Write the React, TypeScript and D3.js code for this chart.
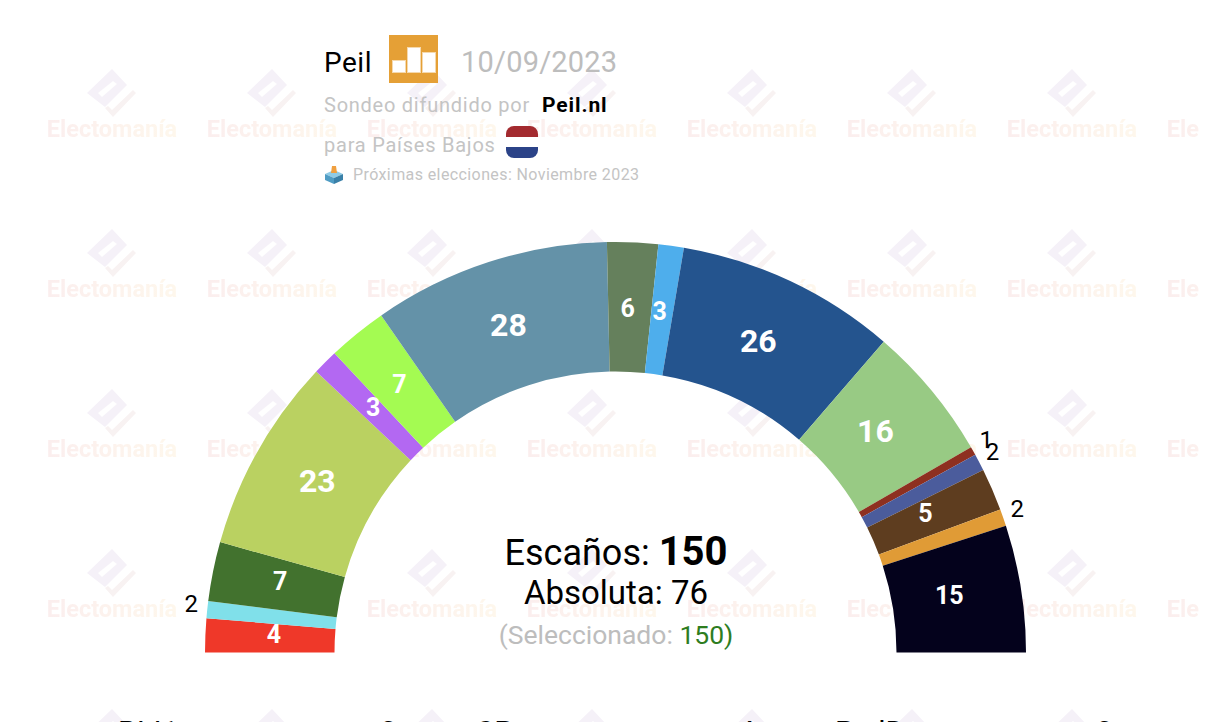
import * as d3 from 'd3';

// Escaños de izquierda a derecha
const parties = ['SP', 'PvdD', 'DENK', 'GL-PvdA', 'Volt', 'D66', 'NSC', 'CDA', 'CU', 'VVD', 'BBB', 'SGP', 'JA21', 'FvD', 'BVNL', 'PVV'];
const seats = [4, 2, 7, 23, 3, 7, 28, 6, 3, 26, 16, 1, 2, 5, 2, 15];
const colors = ['#ef3829', '#80e0ea', '#42722e', '#bad161', '#b368f2', '#a4fb52', '#6492a8', '#65805c', '#4eaeec', '#24548e', '#98ca84', '#8e3020', '#4b5c9c', '#5e3d1f', '#e09b36', '#04021c'];

const legendNames = ['BIJ1', 'SP', 'PvdD'];
const legendSeats = [2, 4, 2];

const W = 1230, H = 722;
const CX = 616, CY = 652.5, R_OUT = 410.5, R_IN = 281;
const FONT = 'Roboto, sans-serif';

const total = d3.sum(seats);
const pie = d3.pie<number>().sort(null).startAngle(-Math.PI / 2).endAngle(Math.PI / 2);
const arcs = pie(seats);
const arc = d3.arc<d3.PieArcDatum<number>>().innerRadius(R_IN).outerRadius(R_OUT);
const labelArc = d3.arc<d3.PieArcDatum<number>>().innerRadius(340).outerRadius(340);
const outerArc = d3.arc<d3.PieArcDatum<number>>().innerRadius(426).outerRadius(426);

const fontFor = (v: number) => (v >= 16 ? 32 : 25);

function Watermark() {
  return (
    <g>
      <defs>
        <linearGradient id="wmText" x1="0" x2="1" y1="0" y2="0">
          <stop offset="0" stopColor="#fbeeee" />
          <stop offset="1" stopColor="#fef7ec" />
        </linearGradient>
        <pattern id="wm" patternUnits="userSpaceOnUse" x={32} y={50} width={160} height={160}>
          <g transform="translate(-32,-50)">
            <polygon points="112,69 127,85 105,107 87,93" fill="#f5f1f8" />
            <polygon points="98,93 113,81 117,84 102,97" fill="#fff" />
            <polygon points="133,90 136,93 113,117 105,108 108,106 112,110" fill="#f8f2f2" />
            <text x={112} y={137} textAnchor="middle" fontFamily={FONT} fontWeight={700} fontSize={23.5} fill="url(#wmText)">Electomanía</text>
          </g>
        </pattern>
      </defs>
      <rect x={32} y={50} width={1167} height={H - 50} fill="url(#wm)" />
    </g>
  );
}

function Header() {
  return (
    <g fontFamily={FONT}>
      <text x={324} y={72} fontSize={28} letterSpacing={0.5} fill="#000">Peil</text>
      <rect x={389} y={35} width={49} height={48} fill="#e5a036" />
      <g fill="#fff" stroke="#f5d9ae" strokeWidth={1}>
        <rect x={392.5} y={60.5} width={13} height={12} />
        <rect x={407.5} y={47.5} width={13} height={25} />
        <rect x={422.5} y={52.5} width={13} height={20} />
      </g>
      <text x={461} y={72} fontSize={29} letterSpacing={0.2} fill="#bdbdbd">10/09/2023</text>
      <text x={324} y={112} fontSize={20} letterSpacing={0.75} fill="#c4c4c4">Sondeo difundido por</text>
      <text x={542} y={112} fontSize={21} letterSpacing={0.9} fontWeight={700} fill="#000">Peil.nl</text>
      <text x={324} y={152} fontSize={20} letterSpacing={0.76} fill="#c4c4c4">para Países Bajos</text>
      <clipPath id="flag"><rect x={506} y={126} width={32} height={32} rx={8} /></clipPath>
      <g clipPath="url(#flag)">
        <rect x={506} y={126} width={32} height={11} fill="#a32a2f" />
        <rect x={506} y={137} width={32} height={10} fill="#fff" />
        <rect x={506} y={147} width={32} height={11} fill="#2b4388" />
      </g>
      <g>
        <polygon points="334,170 343,174 334,178 325,174" fill="#8fcbe6" />
        <polygon points="325,174 334,178 334,184 325,180" fill="#4f9cc4" />
        <polygon points="343,174 334,178 334,184 343,180" fill="#3a80a8" />
        <polygon points="332,166 336,166 337,173 331,173" fill="#f0a040" />
      </g>
      <text x={353} y={180} fontSize={16} letterSpacing={0.4} fill="#c4c4c4">Próximas elecciones: Noviembre 2023</text>
    </g>
  );
}

export default function App() {
  return (
    <svg width={W} height={H} viewBox={`0 0 ${W} ${H}`} style={{ position: 'fixed', left: 0, top: 0, background: '#fff' }}>
      <Watermark />
      <Header />
      <g transform={`translate(${CX - 0.5},${CY})`}>
        {arcs.map((a, i) => (
          <path key={parties[i]} d={arc(a) ?? ''} fill={colors[i]} />
        ))}
        {arcs.map((a, i) => {
          const outside = a.data <= 2;
          const [x, y] = outside ? outerArc.centroid(a) : labelArc.centroid(a);
          return (
            <text
              key={parties[i]} x={outside ? x - 0.5 : x - 2} y={outside ? y - 4 : y - 4.5} dy="0.35em" textAnchor="middle" fontFamily={FONT}
              fontWeight={outside ? 400 : 700} fontSize={outside ? 24 : fontFor(a.data)}
              fill={outside ? '#000' : '#fff'}
            >
              {a.data}
            </text>
          );
        })}
      </g>
      <g fontFamily={FONT} textAnchor="middle">
        <text x={CX} y={565} fontSize={36} fill="#000">Escaños: <tspan fontWeight={700} fontSize={40}>{total}</tspan></text>
        <text x={CX} y={604} fontSize={33} fill="#000">Absoluta: {Math.floor(total / 2) + 1}</text>
        <text x={CX} y={644} fontSize={26.5} fill="#bdbdbd">(Seleccionado: <tspan fill="#2e7d1f">{total})</tspan></text>
      </g>
      <g fontFamily={FONT} fontSize={30} fill="#000">
        {legendNames.map((n, i) => (
          <g key={n}>
            <text x={118 + i * 358.5} y={742}>{n}</text>
            <text x={380 + i * 358} y={742}>{legendSeats[i]}</text>
          </g>
        ))}
      </g>
    </svg>
  );
}
